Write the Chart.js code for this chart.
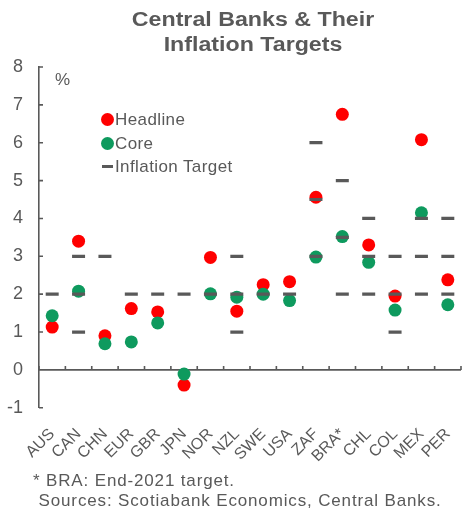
<!DOCTYPE html>
<html>
<head>
<meta charset="utf-8">
<script src="https://cdn.jsdelivr.net/npm/chart.js@4/dist/chart.umd.min.js"></script>
<style>
  html, body { margin: 0; padding: 0; background: #fff; }
  #wrap { position: relative; width: 462px; height: 508px; font-family: "Liberation Sans", Arial, sans-serif; color: #595959; }
  #chart { position: absolute; left: 0; top: 0; }
  .title { position: absolute; left: 0; top: 7px; width: 506px; text-align: center; font-weight: bold; font-size: 20px; line-height: 25px; transform: scaleX(1.16); transform-origin: 253px 0; }
  .pct { position: absolute; left: 55px; top: 70px; font-size: 17px; }
  .legend { position: absolute; left: 101px; top: 108px; font-size: 17px; letter-spacing: 0.4px; }
  .legend div { height: 23.5px; line-height: 23.5px; display: flex; align-items: center; }
  .legend .dot { width: 13px; height: 13px; border-radius: 50%; margin-right: 1px; }
  .legend .dash { width: 11px; height: 3px; margin: 0 2px 0 1px; background: #595959; }
  .note { position: absolute; left: 33px; top: 471px; font-size: 17px; line-height: 20px; letter-spacing: 0.85px; }
</style>
</head>
<body>
<div id="wrap">
  <canvas id="chart" width="462" height="508"></canvas>
  <div class="title">Central Banks &amp; Their<br>Inflation Targets</div>
  <div class="pct">%</div>
  <div class="legend">
    <div><span class="dot" style="background:#ff0000"></span>Headline</div>
    <div><span class="dot" style="background:#0e9a5e"></span>Core</div>
    <div><span class="dash"></span>Inflation Target</div>
  </div>
  <div class="note">* BRA: End-2021 target.<br>&nbsp;Sources: Scotiabank Economics, Central Banks.</div>
</div>
<script>
const countries = ["AUS", "CAN", "CHN", "EUR", "GBR", "JPN", "NOR", "NZL", "SWE", "USA", "ZAF", "BRA*", "CHL", "COL", "MEX", "PER"];
const headline = [1.13, 3.40, 0.90, 1.62, 1.53, -0.40, 2.97, 1.55, 2.25, 2.33, 4.56, 6.75, 3.30, 1.95, 6.08, 2.38];
const core = [1.43, 2.08, 0.69, 0.74, 1.24, -0.11, 2.01, 1.92, 2.00, 1.83, 2.98, 3.52, 2.84, 1.58, 4.15, 1.72];
// target band: lower / mid / upper marks, null where not shown
const targetLow = [2, 1, 3, 2, 2, 2, 2, 1, 2, 2, 3, 2, 2, 1, 2, 2];
const targetMid = [null, 2, null, null, null, null, null, 2, null, null, 4.5, 3.5, 3, 2, 3, 3];
const targetHigh = [null, 3, null, null, null, null, null, 3, null, null, 6, 5, 4, 3, 4, 4];
const yMin = -1;
const yMax = 8;

const grey = "#595959";

const targetSet = (data) => ({
  label: "Inflation Target",
  data,
  showLine: false,
  pointStyle: "line",
  pointRadius: 6.5,
  pointBorderWidth: 3.2,
  pointBorderColor: grey,
  pointBackgroundColor: grey,
  order: 0,
});

// zero line, category ticks and inward y ticks
const axisDecor = {
  id: "axisDecor",
  beforeDatasetsDraw(chart) {
    const { ctx, chartArea, scales } = chart;
    const x = scales.x;
    const y = scales.y;
    ctx.save();
    ctx.strokeStyle = grey;
    ctx.lineWidth = 1.6;
    const y0 = y.getPixelForValue(0);
    ctx.beginPath();
    ctx.moveTo(chartArea.left, y0);
    ctx.lineTo(chartArea.right, y0);
    for (let i = 0; i <= countries.length; i++) {
      const px = x.getPixelForValue(i - 0.5);
      ctx.moveTo(px, y0);
      ctx.lineTo(px, y0 - 4);
    }
    y.ticks.forEach((t) => {
      const py = y.getPixelForValue(t.value);
      ctx.moveTo(chartArea.left, py);
      ctx.lineTo(chartArea.left + 4, py);
    });
    ctx.stroke();
    ctx.restore();
  },
};

new Chart(document.getElementById("chart"), {
  type: "line",
  data: {
    labels: countries,
    datasets: [
      targetSet(targetLow),
      targetSet(targetMid),
      targetSet(targetHigh),
      {
        label: "Core",
        data: core,
        showLine: false,
        pointRadius: 6.5,
        pointBorderWidth: 0,
        pointBackgroundColor: "#0e9a5e",
        order: 1,
      },
      {
        label: "Headline",
        data: headline,
        showLine: false,
        pointRadius: 6.5,
        pointBorderWidth: 0,
        pointBackgroundColor: "#ff0000",
        order: 2,
      },
    ],
  },
  options: {
    responsive: false,
    animation: false,
    events: [],
    layout: { autoPadding: false, padding: { left: 7, right: 1, top: 67, bottom: 33 } },
    plugins: {
      legend: { display: false },
      tooltip: { enabled: false },
    },
    scales: {
      x: {
        type: "category",
        offset: true,
        grid: { display: false },
        border: { display: false },
        afterFit: (scale) => {
          // rotated labels should not push the plot area in
          scale.paddingLeft = 0;
          scale.paddingRight = 0;
        },
        ticks: {
          autoSkip: false,
          maxRotation: 45,
          minRotation: 45,
          padding: 9,
          color: grey,
          font: { family: "Liberation Sans", size: 16 },
        },
      },
      y: {
        min: yMin,
        max: yMax,
        grid: { display: false, drawTicks: false },
        border: { display: true, color: grey, width: 1.6 },
        afterFit: (scale) => {
          scale.width = 32;
        },
        ticks: {
          stepSize: 1,
          padding: 16,
          color: grey,
          font: { family: "Liberation Sans", size: 18 },
        },
      },
    },
  },
  plugins: [axisDecor],
});
</script>
</body>
</html>
